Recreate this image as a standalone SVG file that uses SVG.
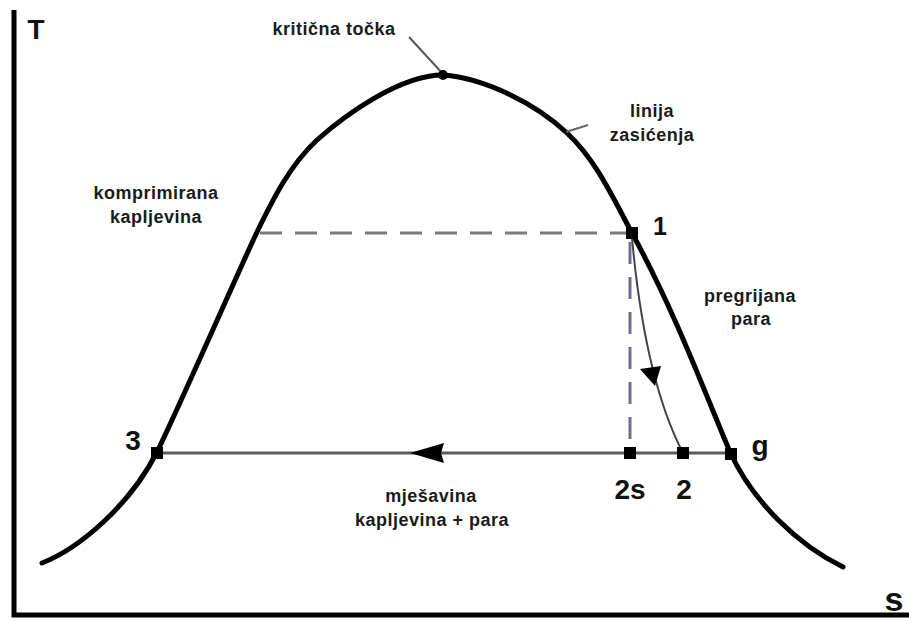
<svg xmlns="http://www.w3.org/2000/svg" width="909" height="621" viewBox="0 0 909 621">
<style>
.lbl{font-family:"Liberation Sans",Arial,sans-serif;font-weight:bold;font-size:18px;letter-spacing:0.5px;fill:#1a1a1a;text-anchor:middle}
.big{font-family:"Liberation Sans",Arial,sans-serif;font-weight:bold;fill:#111;text-anchor:middle}
.pt{fill:#000}
.axis{stroke:#000;stroke-width:5;fill:none}
.dash{stroke:#7a7a7a;stroke-width:3;fill:none;stroke-dasharray:22 13}
</style>
<rect width="909" height="621" fill="#fff"/>
<g id="axes">
<path class="axis" d="M14,10 V615 H909"/>
<text class="big" x="36" y="39" style="font-size:28px">T</text>
<text class="big" x="894" y="611" style="font-size:34px">s</text>
</g>
<g id="saturation-curve">
<path fill="none" stroke="#000" stroke-width="5" stroke-linecap="round" d="M42,563 C80,548 130,505 157,452 C175,416 240,268 257,232 C273,199 290,165 317,140 C345,115 400,75 443,75 C485,78 536,104 567,133 C596,160 613,198 632,233 C675,312 703,388 730,452 C753,502 798,545 843,567"/>
</g>
<g id="connectors">
<line x1="409" y1="37" x2="443" y2="74" stroke="#555" stroke-width="2"/>
<line x1="566" y1="132" x2="588" y2="125" stroke="#666" stroke-width="2"/>
<line class="dash" x1="260" y1="233" x2="626" y2="233"/>
<line class="dash" x1="630" y1="242" x2="630" y2="448" style="stroke:#6c7190"/>
<line x1="157" y1="453" x2="730" y2="453" stroke="#5c5c5c" stroke-width="3"/>
<polygon points="410,453 444,443 441,453 444,463" fill="#000"/>
<path d="M632,238 Q645,380 683,453" fill="none" stroke="#444" stroke-width="2"/>
<polygon points="640,369 661,366 655,386" fill="#000"/>
</g>
<g id="critical-point">
<circle class="pt" cx="443" cy="75" r="5"/>
<text class="lbl" x="334" y="35">kritična točka</text>
</g>
<g id="saturation-label">
<text class="lbl" x="652" y="117">linija</text>
<text class="lbl" x="652" y="141">zasićenja</text>
</g>
<g id="compressed-liquid">
<text class="lbl" x="156" y="199">komprimirana</text>
<text class="lbl" x="156" y="223">kapljevina</text>
</g>
<g id="superheated-vapour">
<text class="lbl" x="750" y="302">pregrijana</text>
<text class="lbl" x="751" y="325">para</text>
</g>
<g id="mixture">
<text class="lbl" x="431" y="502">mješavina</text>
<text class="lbl" x="432" y="526">kapljevina + para</text>
</g>
<g id="point-1">
<rect class="pt" x="626" y="227" width="12" height="12"/>
<text class="big" x="660" y="235" style="font-size:25px">1</text>
</g>
<g id="point-3">
<rect class="pt" x="151" y="447" width="12" height="12"/>
<text class="big" x="133" y="450" style="font-size:28px">3</text>
</g>
<g id="point-2s">
<rect class="pt" x="624" y="447" width="12" height="12"/>
<text class="big" x="630" y="499" style="font-size:28px">2s</text>
</g>
<g id="point-2">
<rect class="pt" x="677" y="447" width="12" height="12"/>
<text class="big" x="684" y="499" style="font-size:28px">2</text>
</g>
<g id="point-g">
<rect class="pt" x="725" y="448" width="12" height="12"/>
<text class="big" x="760" y="455" style="font-size:28px">g</text>
</g>
</svg>
